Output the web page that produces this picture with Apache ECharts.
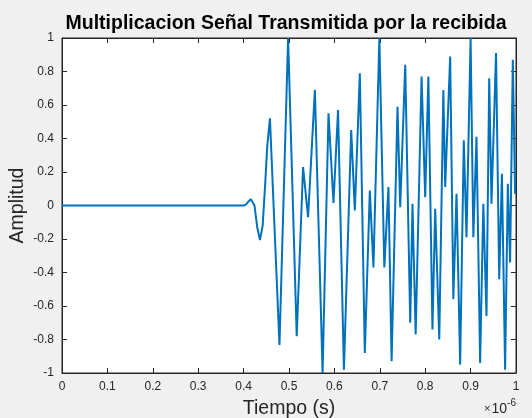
<!DOCTYPE html>
<html>
<head>
<meta charset="utf-8">
<script src="https://cdn.jsdelivr.net/npm/echarts@6/dist/echarts.min.js"></script>
<style>html,body{margin:0;padding:0;background:#f0f0f0;}#c{width:532px;height:418px;}</style>
</head>
<body>
<div id="c"></div>
<script>
// Time in units of 1e-6 s
var tiempo = [0, 0.400, 0.405, 0.410, 0.416, 0.424, 0.430, 0.436, 0.442, 0.448, 0.452, 0.458,
  0.479, 0.498, 0.517, 0.531, 0.542, 0.557, 0.574, 0.587, 0.598, 0.608, 0.621,
  0.637, 0.645, 0.656, 0.667, 0.678, 0.686, 0.699, 0.710, 0.719, 0.726,
  0.739, 0.745, 0.756, 0.767, 0.772, 0.779, 0.792, 0.800, 0.807, 0.816, 0.822, 0.831,
  0.840, 0.844, 0.855, 0.862, 0.869, 0.877, 0.885, 0.891, 0.900, 0.906, 0.913, 0.921,
  0.928, 0.935, 0.941, 0.946, 0.956, 0.963, 0.969, 0.976, 0.982, 0.987, 0.993, 0.998];
var amplitud = [0, 0, 0.005, 0.022, 0.037, 0.0, -0.13, -0.206, -0.12, 0.15, 0.35, 0.52,
  -0.833, 1.0, -0.78, 0.23, -0.07, 0.69, -1.0, 0.55, 0.015, 0.57, -0.98,
  0.45, -0.03, 0.79, -0.88, 0.09, -0.37, 1.0, -0.37, 0.11, -0.93,
  0.59, -0.01, 0.84, -0.70, 0.01, -0.77, 0.77, 0.05, 0.77, -0.74, -0.02, -0.80,
  0.69, 0.11, 0.89, -0.56, 0.07, -0.95, 0.39, -0.19, 1.0, -0.19, 0.41, -0.94,
  0.01, -0.66, 0.76, 0.01, 0.91, -0.44, 0.19, -0.98, 0.13, -0.34, 0.87, 0.07];
var tituloTexto = 'Multiplicacion Señal Transmitida por la recibida';
var xNombre = 'Tiempo (s)';
var yNombre = 'Amplitud';

var datos = tiempo.map(function (t, i) { return [t, amplitud[i]]; });
var chart = echarts.init(document.getElementById('c'));
var lblColor = '#262626';
var fam = 'Liberation Sans, Arial';
function axisCommon() {
  return {
    axisLine: { show: true, onZero: false, lineStyle: { color: '#262626', width: 1 } },
    axisTick: { show: true, inside: true, length: 5, lineStyle: { color: '#262626' } },
    splitLine: { show: false }
  };
}
chart.setOption({
  backgroundColor: '#f0f0f0',
  animation: false,
  title: {
    text: tituloTexto, left: 281, top: 9, textAlign: 'center',
    textStyle: { fontFamily: fam, fontWeight: 'bold', fontSize: 19.5, color: '#000' }
  },
  grid: { left: 62, top: 38, width: 454, height: 335, show: true, backgroundColor: '#fff',
    borderColor: '#262626', borderWidth: 1, containLabel: false, outerBoundsMode: 'none' },
  xAxis: [
    Object.assign({ type: 'value', min: 0, max: 1, interval: 0.1, position: 'bottom',
      axisLabel: { color: lblColor, fontSize: 12, fontFamily: fam, margin: 8 },
      name: xNombre, nameLocation: 'middle', nameGap: 26, nameMoveOverlap: false,
      nameTextStyle: { fontSize: 19.5, color: lblColor, fontFamily: fam } }, axisCommon()),
    Object.assign({ type: 'value', min: 0, max: 1, interval: 0.1, position: 'top', axisLabel: { show: false } }, axisCommon())
  ],
  yAxis: [
    Object.assign({ type: 'value', min: -1, max: 1, interval: 0.2, position: 'left',
      axisLabel: { color: lblColor, fontSize: 12, fontFamily: fam, margin: 8 },
      name: yNombre, nameLocation: 'middle', nameGap: 34, nameRotate: 90, nameMoveOverlap: false,
      nameTextStyle: { fontSize: 19.5, color: lblColor, fontFamily: fam } }, axisCommon()),
    Object.assign({ type: 'value', min: -1, max: 1, interval: 0.2, position: 'right', axisLabel: { show: false } }, axisCommon())
  ],
  graphic: [{
    type: 'text', right: 16, top: 398,
    style: { text: '{x|×}{n|10}{s|-6}', fill: lblColor, font: '14px ' + fam,
      rich: {
        x: { fontSize: 11, fill: lblColor, fontFamily: fam, padding: [4, 1, 0, 0] },
        n: { fontSize: 14, fill: lblColor, fontFamily: fam, padding: [4, 0, 0, 0] },
        s: { fontSize: 10, fill: lblColor, fontFamily: fam, padding: [0, 0, 8, 0] }
      } }
  }],
  series: [{
    type: 'line', data: datos, showSymbol: false, symbol: 'none',
    lineStyle: { color: '#0072BD', width: 2 }, xAxisIndex: 0, yAxisIndex: 0
  }]
});
</script>
</body>
</html>
